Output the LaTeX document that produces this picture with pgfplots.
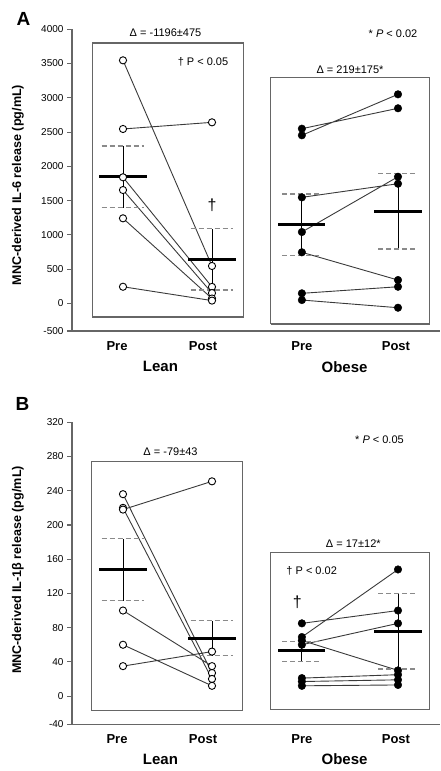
\documentclass[border=0pt]{standalone}
\usepackage{fontspec}
\setmainfont{Liberation Sans}
\usepackage{pgfplots}
\usepackage{pgfplotstable}
\pgfplotsset{compat=1.18}
\definecolor{axgray}{HTML}{666666}
\definecolor{lngray}{HTML}{3A3A3A}
\definecolor{dashgray}{HTML}{8A8A8A}

% Panel A: IL-6, one row per subject (pre, post), nan separates subjects
\pgfplotstableread{
x y
1 3547
2 545
1.5 nan
1 2545
2 2642
1.5 nan
1 1840
2 240
1.5 nan
1 1654
2 150
1.5 nan
1 1241
2 70
1.5 nan
1 242
2 40
}\leanA
\pgfplotstableread{
x y
3.01 2549
4.09 2847
3.5 nan
3.01 2453
4.09 3051
3.5 nan
3.01 1547
4.09 1746
3.5 nan
3.01 1041
4.09 1848
3.5 nan
3.01 745
4.09 340
3.5 nan
3.01 146
4.09 242
3.5 nan
3.01 48
4.09 -64
}\obeseA
% Panel B: IL-1beta
\pgfplotstableread{
x y
1 236
2 27
1.5 nan
1 220
2 20
1.5 nan
1 218
2 251
1.5 nan
1 100
2 35
1.5 nan
1 60
2 12
1.5 nan
1 35
2 52
}\leanB
\pgfplotstableread{
x y
3.01 69
4.09 148
3.5 nan
3.01 85
4.09 100
3.5 nan
3.01 60
4.09 85
3.5 nan
3.01 65
4.09 30
3.5 nan
3.01 21
4.09 25
3.5 nan
3.01 17
4.09 19
3.5 nan
3.01 12
4.09 13
}\obeseB

\pgfplotsset{
  subj/.style={lngray, line width=0.9pt, no marks, unbounded coords=jump, forget plot},
  opendots/.style={only marks, mark=*, mark size=3.6pt, mark options={fill=white, draw=black, line width=0.9pt}, forget plot},
  filldots/.style={only marks, mark=*, mark size=3.8pt, mark options={fill=black, draw=black}, forget plot},
  meanbar/.style={black, line width=3pt, no marks, forget plot},
  sdline/.style={black, line width=0.9pt, no marks, forget plot},
  sdcap/.style={dashgray, line width=1.2pt, dash pattern=on 5pt off 3pt, no marks, forget plot},
  grpbox/.style={axgray, line width=1.2pt, no marks, forget plot},
  panel/.style={
    scale only axis, width=368pt,
    xmin=0.427, xmax=4.562,
    axis lines*=left,
    axis line style={-, draw=axgray, line width=1.3pt},
    ytick pos=left,
    tick align=outside, major tick length=5pt,
    every tick/.style={axgray, line width=1.1pt},
    xtick={0.933,1.899,3.01,4.067},
    xticklabels={Pre,Post,Pre,Post},
    xtick style={draw=none},
    x tick label style={font=\bfseries\fontsize{13}{15}\selectfont, yshift=-2pt},
    y tick label style={font=\fontsize{10}{12}\selectfont},
    clip=false,
  },
}

\begin{document}
\begin{tikzpicture}
\useasboundingbox (0,0) rectangle (440pt,-771pt);

% ---------------- Panel A ----------------
\node[font=\bfseries\fontsize{19}{20}\selectfont] at (23.5pt,-19pt) {A};
\node[rotate=90, font=\bfseries\fontsize{12.6}{14}\selectfont] at (18pt,-185pt) {MNC-derived IL-6 release (pg/mL)};
\begin{axis}[panel,
  at={(72pt,-331pt)}, anchor=south west, height=301.7pt,
  ymin=-404, ymax=4000,
  ytick={-404,0,500,1000,1500,2000,2500,3000,3500,4000},
  yticklabels={-500,0,500,1000,1500,2000,2500,3000,3500,4000},
]
\addplot[grpbox] coordinates {(0.655,-200) (2.351,-200) (2.351,3801) (0.655,3801) (0.655,-200)};
\addplot[grpbox] coordinates {(2.66,-302) (4.44,-302) (4.44,3293) (2.66,3293) (2.66,-302)};
\addplot[subj] table {\leanA};
\addplot[subj] table {\obeseA};
% lean pre
\addplot[sdline] coordinates {(1,1396) (1,2296)};
\addplot[sdcap] coordinates {(0.76,2296) (1.24,2296)};
\addplot[sdcap] coordinates {(0.76,1396) (1.24,1396)};
\addplot[meanbar] coordinates {(0.735,1858) (1.265,1858)};
% lean post
\addplot[sdline] coordinates {(2,194) (2,1089)};
\addplot[sdcap] coordinates {(1.76,1089) (2.24,1089)};
\addplot[sdcap] coordinates {(1.76,194) (2.24,194)};
\addplot[meanbar] coordinates {(1.735,642) (2.265,642)};
% obese pre
\addplot[sdline] coordinates {(3.01,695) (3.01,1596)};
\addplot[sdcap] coordinates {(2.79,1596) (3.23,1596)};
\addplot[sdcap] coordinates {(2.79,695) (3.23,695)};
\addplot[meanbar] coordinates {(2.745,1147) (3.275,1147)};
% obese post
\addplot[sdline] coordinates {(4.09,793) (4.09,1892)};
\addplot[sdcap] coordinates {(3.87,1892) (4.31,1892)};
\addplot[sdcap] coordinates {(3.87,793) (4.31,793)};
\addplot[meanbar] coordinates {(3.825,1347) (4.355,1347)};
\addplot[opendots] table {\leanA};
\addplot[filldots] table {\obeseA};
% texts
\node[font=\fontsize{11}{13}\selectfont] at (axis cs:1.478,3956) {Δ = -1196±475};
\node[font=\fontsize{11}{13}\selectfont] at (axis cs:1.899,3523) {† P < 0.05};
\node[font=\fontsize{11}{13}\selectfont] at (axis cs:4.034,3936) {* \textit{P} < 0.02};
\node[font=\fontsize{11}{13}\selectfont] at (axis cs:3.551,3416) {Δ = 219±175*};
\node[font=\fontsize{16}{18}\selectfont] at (axis cs:2.0,1435) {†};
\node[font=\bfseries\fontsize{15}{17}\selectfont] at (axis cs:1.421,-926) {Lean};
\node[font=\bfseries\fontsize{15}{17}\selectfont] at (axis cs:3.489,-926) {Obese};
\end{axis}

% ---------------- Panel B ----------------
\node[font=\bfseries\fontsize{19}{20}\selectfont] at (22.5pt,-403.5pt) {B};
\node[rotate=90, font=\bfseries\fontsize{12.6}{14}\selectfont] at (18pt,-570pt) {MNC-derived IL-1β release (pg/mL)};
\begin{axis}[panel,
  at={(72pt,-724.3pt)}, anchor=south west, height=302pt,
  ymin=-33, ymax=320,
  ytick={-33,0,40,80,120,160,200,240,280,320},
  yticklabels={-40,0,40,80,120,160,200,240,280,320},
]
\addplot[grpbox] coordinates {(0.650,-17) (2.345,-17) (2.345,274) (0.650,274) (0.650,-17)};
\addplot[grpbox] coordinates {(2.66,-16) (4.44,-16) (4.44,168) (2.66,168) (2.66,-16)};
\addplot[subj] table {\leanB};
\addplot[subj] table {\obeseB};
% lean pre
\addplot[sdline] coordinates {(1,111.5) (1,184)};
\addplot[sdcap] coordinates {(0.76,184) (1.24,184)};
\addplot[sdcap] coordinates {(0.76,111.5) (1.24,111.5)};
\addplot[meanbar] coordinates {(0.735,148.5) (1.265,148.5)};
% lean post
\addplot[sdline] coordinates {(2,47) (2,88)};
\addplot[sdcap] coordinates {(1.76,88) (2.24,88)};
\addplot[sdcap] coordinates {(1.76,47) (2.24,47)};
\addplot[meanbar] coordinates {(1.735,67.5) (2.265,67.5)};
% obese pre
\addplot[sdline] coordinates {(3.01,40) (3.01,64)};
\addplot[sdcap] coordinates {(2.79,64) (3.23,64)};
\addplot[sdcap] coordinates {(2.79,40) (3.23,40)};
\addplot[meanbar] coordinates {(2.745,53) (3.275,53)};
% obese post
\addplot[sdline] coordinates {(4.09,31.6) (4.09,120)};
\addplot[sdcap] coordinates {(3.87,120) (4.31,120)};
\addplot[sdcap] coordinates {(3.87,31.6) (4.31,31.6)};
\addplot[meanbar] coordinates {(3.825,76) (4.355,76)};
\addplot[opendots] table {\leanB};
\addplot[filldots] table {\obeseB};
% texts
\node[font=\fontsize{11}{13}\selectfont] at (axis cs:1.534,286) {Δ = -79±43};
\node[font=\fontsize{11}{13}\selectfont] at (axis cs:3.882,299.4) {* \textit{P} < 0.05};
\node[font=\fontsize{11}{13}\selectfont] at (axis cs:3.588,178.6) {Δ = 17±12*};
\node[font=\fontsize{11}{13}\selectfont] at (axis cs:3.12,146) {† P < 0.02};
\node[font=\fontsize{16}{18}\selectfont] at (axis cs:2.958,110) {†};
\node[font=\bfseries\fontsize{15}{17}\selectfont] at (axis cs:1.421,-74) {Lean};
\node[font=\bfseries\fontsize{15}{17}\selectfont] at (axis cs:3.489,-74) {Obese};
\end{axis}
\end{tikzpicture}
\end{document}
